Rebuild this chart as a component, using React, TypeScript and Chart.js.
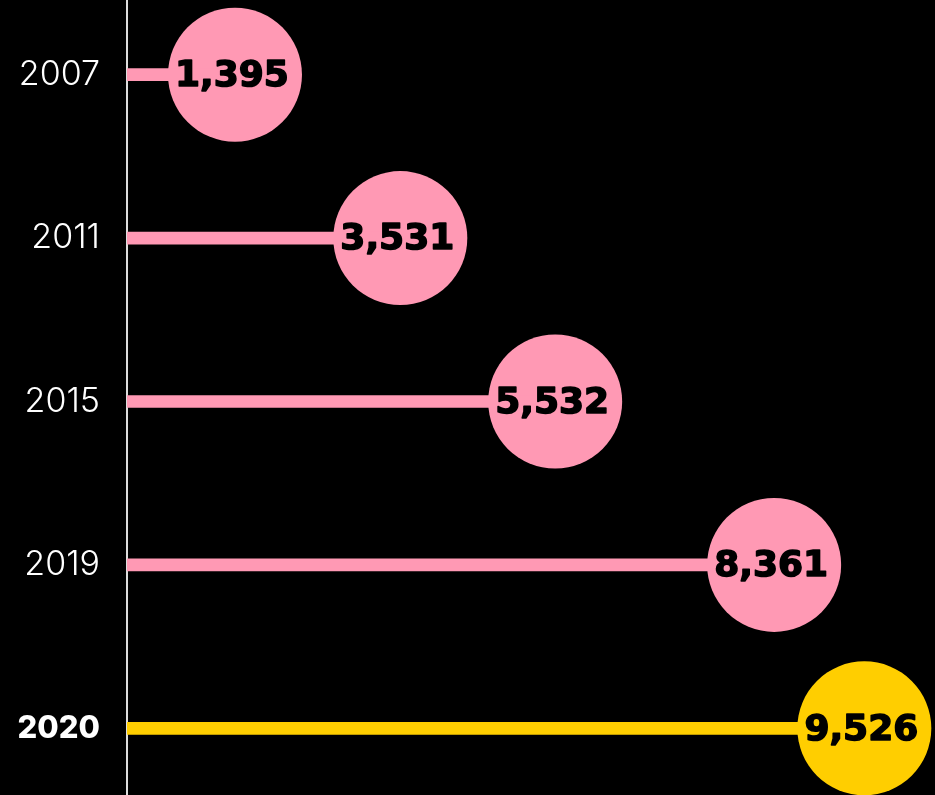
import React, { useEffect, useRef } from "react";
import { Chart, registerables } from "chart.js";

Chart.register(...registerables);

const years = ["2007", "2011", "2015", "2019", "2020"];
const values = [1395, 3531, 5532, 8361, 9526];
const highlightYear = "2020";

const PINK = "#FF99B4";
const YELLOW = "#FFCE00";

const valueLabels = {
  id: "valueLabels",
  afterDatasetsDraw(chart: any) {
    const meta = chart.getDatasetMeta(1);
    const ctx = chart.ctx;
    ctx.save();
    ctx.fillStyle = "#000";
    ctx.strokeStyle = "#000";
    ctx.lineWidth = 1.5;
    ctx.lineJoin = "round";
    ctx.font = "bold 36px 'DejaVu Sans'";
    ctx.textAlign = "center";
    ctx.textBaseline = "middle";
    meta.data.forEach((pt: any, i: number) => {
      const t = values[i].toLocaleString("en-US");
      ctx.fillText(t, pt.x - 3, pt.y + 2);
      ctx.strokeText(t, pt.x - 3, pt.y + 2);
    });
    ctx.restore();
  },
};

export default function App() {
  const ref = useRef<HTMLCanvasElement>(null);
  useEffect(() => {
    if (!ref.current) return;
    const colors = years.map((y) => (y === highlightYear ? YELLOW : PINK));
    const chart = new Chart(ref.current, {
      type: "bar",
      data: {
        labels: years,
        datasets: [
          {
            type: "bar",
            data: values,
            backgroundColor: colors,
            barThickness: 12,
            borderWidth: 0,
          } as any,
          {
            type: "line",
            data: values,
            showLine: false,
            pointRadius: 67,
            pointHoverRadius: 67,
            pointBackgroundColor: colors,
            pointBorderWidth: 0,
            borderWidth: 0,
            clip: false,
            indexAxis: "y",
          } as any,
        ],
      },
      options: {
        indexAxis: "y",
        responsive: false,
        animation: false,
        devicePixelRatio: 1,
        layout: { autoPadding: false, padding: { left: 0, right: 34, top: 0, bottom: 0 } },
        plugins: { legend: { display: false }, tooltip: { enabled: false } },
        scales: {
          x: { display: false, min: 0, max: 10000 },
          y: {
            type: "category",
            offset: true,
            grid: { display: false, drawTicks: false },
            border: { display: true, color: "#dddddd", width: 2 },
            afterFit: (scale: any) => {
              scale.width = 127;
              scale.paddingTop = 0;
              scale.paddingBottom = 0;
            },
            ticks: {
              padding: 27,
              color: "#ffffff",
              font: (c: any) =>
                years[c.index] === highlightYear
                  ? { family: "Inter", size: 31, weight: "800" }
                  : { family: "Inter", size: 34, weight: "300" },
            },
          },
        },
      } as any,
      plugins: [valueLabels],
    });
    return () => chart.destroy();
  }, []);
  return (
    <div
      style={{
        position: "fixed",
        left: 0,
        top: 0,
        width: 935,
        height: 795,
        overflow: "hidden",
        background: "#000",
      }}
    >
      <canvas
        ref={ref}
        width={935}
        height={817}
        style={{ position: "absolute", left: 0, top: -7, width: 935, height: 817 }}
      />
    </div>
  );
}
